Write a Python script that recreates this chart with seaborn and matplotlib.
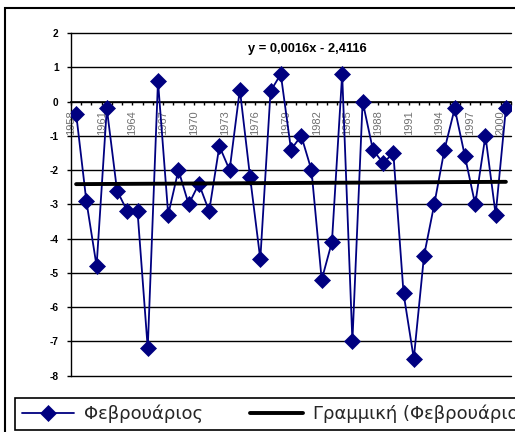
import numpy as np
import pandas as pd
import matplotlib
matplotlib.use("Agg")
import matplotlib.pyplot as plt
import matplotlib.ticker as mticker
from matplotlib.patches import Rectangle
import seaborn as sns

# February values per year
years = list(range(1958, 2001))
february = [
    -0.35, -2.9, -4.8, -0.2, -2.6, -3.2, -3.2, -7.2, 0.6, -3.3,
    -2.0, -3.0, -2.4, -3.2, -1.3, -2.0, 0.35, -2.2, -4.6, 0.3,
    0.8, -1.4, -1.0, -2.0, -5.2, -4.1, 0.8, -7.0, 0.0, -1.4,
    -1.8, -1.5, -5.6, -7.5, -4.5, -3.0, -1.4, -0.2, -1.6, -3.0,
    -1.0, -3.3, -0.2,
]

# Linear trend (x = running index of the year, starting at 1)
trend_slope = 0.0016
trend_intercept = -2.4116

series_label = "Φεβρουάριος"
trend_label = "Γραμμική (Φεβρουάριος)"
y_ticks = list(range(-8, 3))
label_step = 3

sns.set_style("white")
plt.rcParams["font.family"] = ["Liberation Sans", "DejaVu Sans"]
plt.rcParams["axes.unicode_minus"] = False

W, H = 515, 432
fig = plt.figure(figsize=(W / 100, H / 100), dpi=100)
ax = fig.add_axes([71 / W, 1 - 375.7 / H, 440 / W, 342.7 / H])

pos = np.arange(1, len(years) + 1)
df = pd.DataFrame({"pos": pos, "year": years, "value": february})
trend = pd.DataFrame({"pos": pos, "value": trend_slope * pos + trend_intercept})

sns.lineplot(data=df, x="pos", y="value", ax=ax, color="#000080", linewidth=1.3,
             marker="D", markersize=7.8, markeredgecolor="#000080",
             markeredgewidth=0.5, label=series_label, legend=False, zorder=3)
sns.lineplot(data=trend, x="pos", y="value", ax=ax, color="black", linewidth=2.8,
             label=trend_label, legend=False, zorder=4)

ax.set_xlim(0.5, len(years) + 0.5)
ax.set_ylim(min(y_ticks), max(y_ticks))
ax.set_xlabel("")
ax.set_ylabel("")

# Spines: category axis crosses at zero, value axis on the left
for side in ("top", "right"):
    ax.spines[side].set_visible(False)
ax.spines["bottom"].set_position(("data", 0))
ax.spines["bottom"].set_color("black")
ax.spines["bottom"].set_linewidth(1.2)
ax.spines["left"].set_color("black")
ax.spines["left"].set_linewidth(1.0)

# Horizontal gridlines at every integer
ax.set_yticks(y_ticks)
ax.yaxis.grid(True, color="black", linewidth=1.0)
ax.xaxis.grid(False)
ax.set_axisbelow(True)
for gl in ax.get_ygridlines():
    gl.set_clip_on(False)
ax.tick_params(axis="y", which="major", length=3, width=1, direction="out",
               pad=6, labelsize=7.3, colors="black", left=True)
for lbl in ax.get_yticklabels():
    lbl.set_fontweight("bold")

# Year labels every third category, tick marks between categories
ax.set_xticks(pos[::label_step])
ax.set_xticklabels([str(y) for y in years[::label_step]], rotation=90,
                   ha="right", va="top", fontsize=8, color="#707070")
ax.xaxis.set_minor_locator(mticker.FixedLocator(np.arange(0.5, len(years) + 1, 1)))
ax.tick_params(axis="x", which="major", length=0, pad=6.5, bottom=True)
ax.tick_params(axis="x", which="minor", length=2.5, width=1, direction="out",
               color="black", bottom=True)

# Trend equation
eq = f"y = {trend_slope:.4f}x - {abs(trend_intercept):.4f}".replace(".", ",")
fig.text(307.5 / W, 1 - 49 / H, eq, ha="center", va="center",
         fontsize=9.3, fontweight="bold", color="black")

# Chart frame
fig.add_artist(Rectangle((5 / W, -0.05), 1.2, 1 - 8 / H + 0.05,
                         transform=fig.transFigure, fill=False,
                         edgecolor="black", linewidth=1.5, clip_on=False))

# Legend along the bottom
handles = [ax.lines[0], ax.lines[1]]
leg = fig.legend(handles, [series_label, trend_label], loc="upper left",
                 bbox_to_anchor=(15 / W, 1 - 398 / H), bbox_transform=fig.transFigure,
                 ncol=2, frameon=True, fancybox=False, edgecolor="black",
                 framealpha=1, prop={"family": "DejaVu Sans", "size": 13},
                 handlelength=2.9, handletextpad=0.55, columnspacing=2.6,
                 borderpad=0.38, borderaxespad=0, numpoints=1)
leg.get_frame().set_linewidth(1.2)

fig.savefig("out.png", dpi=100)
